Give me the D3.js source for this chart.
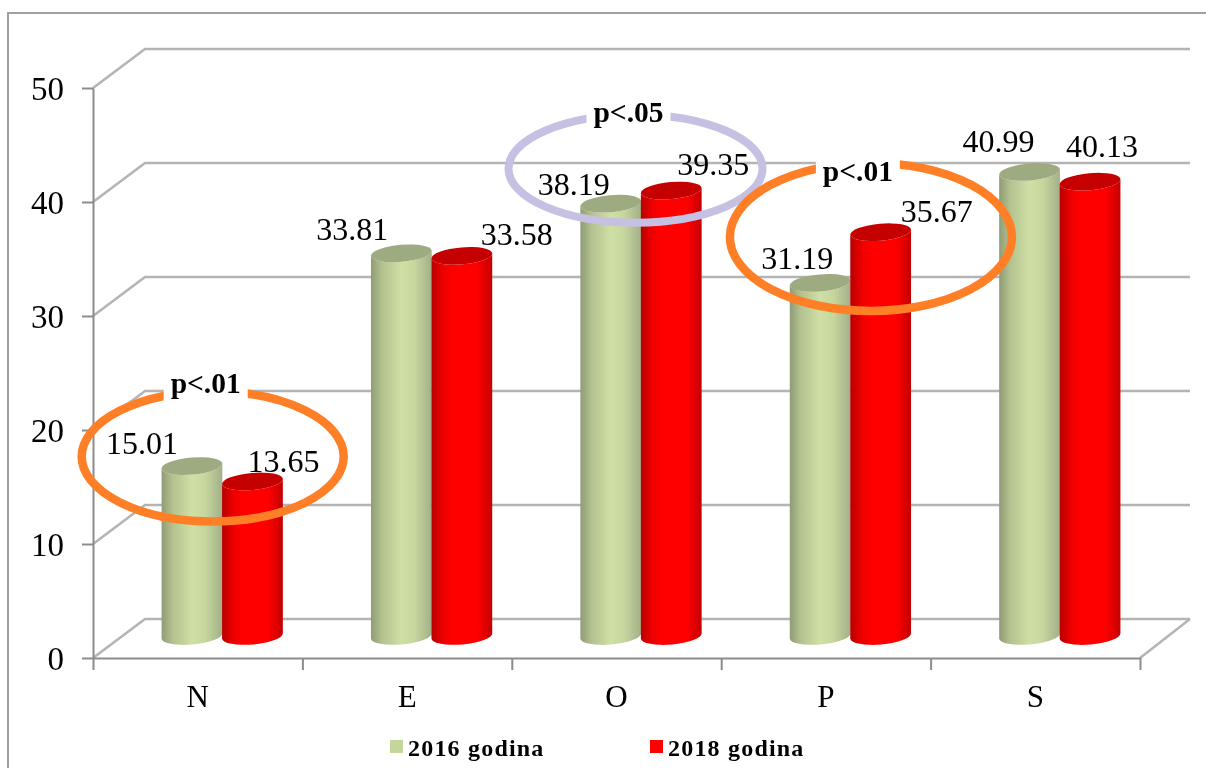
<!DOCTYPE html>
<html>
<head>
    <title>NEOPS 2016 / 2018</title>
    <script type="text/javascript" src="https://d3js.org/d3.v7.min.js"></script>
    <style>
	body { margin: 0; background: #fff; }
	svg { display: block; filter: blur(0.45px); }
	text { font-family: "Liberation Serif", "Times New Roman", serif; fill: #000; }
	.axis path, .axis line { stroke: #8c8c8c; stroke-width: 2; }
	.grid { fill: none; stroke: #b4b4b4; stroke-width: 2.5; }
    </style>
</head>
<body>
<script>
	// data
	var categories = ["N", "E", "O", "P", "S"];
	var seriesNames = ["2016 godina", "2018 godina"];
	var values2016 = [15.01, 33.81, 38.19, 31.19, 40.99];
	var values2018 = [13.65, 33.58, 39.35, 35.67, 40.13];
	var yTicks = [0, 10, 20, 30, 40, 50];

	// significance rings: category, text
	var ringCategories = ["N", "O", "P"];
	var ringTexts = ["p<.01", "p<.05", "p<.01"];

	var width = 1206, height = 768;
	var depthX = 52, depthY = 39;			// 3d offset of the back wall
	var floorY = 658, topY = 88;
	var leftX = 93, rightX = 1140;

	var svg = d3.select("body").append("svg")
		.attr("width", width)
		.attr("height", height);

	// frame, runs off the right and bottom of the picture
	svg.append("path")
		.attr("d", "M8," + height + "V13H" + width)
		.attr("fill", "none").attr("stroke", "#a0a0a0").attr("stroke-width", 2);

	var defs = svg.append("defs");
	function gradient(id, stops) {
		var g = defs.append("linearGradient").attr("id", id);
		stops.forEach(function (s) {
			g.append("stop").attr("offset", s[0]).attr("stop-color", s[1]);
		});
	}
	gradient("bodyGreen", [[0, "#8f9c76"], [0.18, "#b3c18f"], [0.5, "#cfe0a5"], [0.72, "#c6d69e"], [1, "#a3af88"]]);
	gradient("bodyRed", [[0, "#b80000"], [0.2, "#f00000"], [0.35, "#ff0000"], [0.75, "#ff0000"], [1, "#c40000"]]);

	var yScale = d3.scaleLinear().domain([0, 50]).range([floorY, topY]);
	var xScale = d3.scaleBand().domain(categories).range([leftX, rightX]);
	var tickScale = d3.scaleLinear().domain([0, categories.length]).range([leftX, rightX]);

	// bars stand in the middle of the floor
	var barScale = d3.scaleLinear().domain([0, 50]).range([636, 70]);
	var innerScale = d3.scaleBand().domain(seriesNames).range([-61, 60]);
	var colorTop = d3.scaleOrdinal().domain(seriesNames).range(["#9eaa80", "#c40000"]);
	var colorBody = d3.scaleOrdinal().domain(seriesNames).range(["url(#bodyGreen)", "url(#bodyRed)"]);
	var colorKey = d3.scaleOrdinal().domain(seriesNames).range(["#c3d69b", "#ff0000"]);

	// grid lines: side wall + back wall
	svg.append("g").selectAll("path").data(yTicks).enter().append("path")
		.attr("class", "grid")
		.attr("d", function (d) {
			var y = yScale(d);
			return "M" + leftX + "," + y + "L" + (leftX + depthX) + "," + (y - depthY) + "H" + (rightX + depthX - 2);
		});
	// floor right edge
	svg.append("path").attr("class", "grid")
		.attr("d", "M" + rightX + "," + floorY + "L" + (rightX + depthX - 2) + "," + (floorY - depthY));

	// y axis
	var yAxis = d3.axisLeft(yScale).tickValues(yTicks).tickSize(11).tickPadding(18).tickSizeOuter(0);
	var yG = svg.append("g").attr("class", "axis").attr("transform", "translate(" + leftX + ",0)").call(yAxis);
	yG.selectAll("text").style("font-size", "33px").attr("dy", "0.34em");

	// x axis: ticks on band edges, labels in band centers
	var xTicks = d3.axisBottom(tickScale).tickValues(d3.range(categories.length + 1)).tickSize(12).tickFormat("").tickSizeOuter(0);
	svg.append("g").attr("class", "axis").attr("transform", "translate(0," + floorY + ")").call(xTicks);
	var xLabels = d3.axisBottom(xScale).tickSize(0).tickPadding(27);
	var xG = svg.append("g").attr("class", "axis").attr("transform", "translate(0," + floorY + ")").call(xLabels);
	xG.select(".domain").remove();
	xG.selectAll("text").style("font-size", "31px");

	var rows = [];
	categories.forEach(function (c, i) {
		rows.push({ cat: c, name: seriesNames[0], v: values2016[i] });
		rows.push({ cat: c, name: seriesNames[1], v: values2018[i] });
	});

	var rx = 30.5, ry = 8.5, tilt = 5;
	var tiltRad = tilt * Math.PI / 180;
	function barCx(d) {
		return xScale(d.cat) + xScale.bandwidth() / 2 + depthX / 2 - 1 + innerScale(d.name) + innerScale.bandwidth() / 2;
	}
	function cylinder(d) {
		var cx = barCx(d), dx = rx * Math.cos(tiltRad), dy = rx * Math.sin(tiltRad);
		var top = barScale(d.v), bot = barScale(0);
		var arc = "A" + rx + "," + ry + " " + (-tilt);
		return "M" + (cx - dx) + "," + (top + dy)
			+ "L" + (cx - dx) + "," + (bot + dy)
			+ arc + " 0 0 " + (cx + dx) + "," + (bot - dy)
			+ "L" + (cx + dx) + "," + (top - dy)
			+ arc + " 0 1 " + (cx - dx) + "," + (top + dy) + "Z";
	}

	var bars = svg.append("g").selectAll("g").data(rows).enter().append("g");
	bars.append("path").attr("d", cylinder).attr("fill", function (d) { return colorBody(d.name); });
	bars.append("ellipse")
		.attr("cx", barCx)
		.attr("cy", function (d) { return barScale(d.v); })
		.attr("rx", rx).attr("ry", ry)
		.attr("transform", function (d) { return "rotate(" + (-tilt) + " " + barCx(d) + " " + barScale(d.v) + ")"; })
		.attr("fill", function (d) { return colorTop(d.name); });

	// rings around the compared pairs, placed from the bars they circle
	var ringSize = [[131, 65, 8.5, "#ff7f27"], [127, 54, 8, "#c6c0e2"], [141, 74, 8.5, "#ff7f27"]];
	var ringShiftX = [-10, -6, 20];
	var ringShiftY = [-25, -35, -46];
	var ringTextDx = [-7, -7, -13];
	var ringTextDy = [2, 7, 18];
	var rings = svg.append("g").selectAll("g").data(ringCategories).enter().append("g");
	rings.each(function (c, i) {
		var g = d3.select(this), s = ringSize[i];
		var k = categories.indexOf(c);
		var cx = xScale(c) + xScale.bandwidth() / 2 + depthX / 2 - 1 + ringShiftX[i];
		var cy = barScale(Math.min(values2016[k], values2018[k])) + ringShiftY[i];
		var tx = cx + ringTextDx[i], ty = cy - s[1] + ringTextDy[i];
		g.append("ellipse")
			.attr("cx", cx).attr("cy", cy).attr("rx", s[0]).attr("ry", s[1])
			.attr("fill", "none").attr("stroke", s[3]).attr("stroke-width", s[2]);
		g.append("rect")
			.attr("x", tx - 42).attr("y", ty - 24).attr("width", 84).attr("height", 34).attr("fill", "#fff");
		g.append("text")
			.attr("x", tx).attr("y", ty)
			.attr("text-anchor", "middle")
			.style("font-size", "29.5px").style("font-weight", "bold")
			.text(ringTexts[i]);
	});

	// value labels, hand placed around each bar top like in the original
	var nudge2016 = [[-50, -23], [-49, -24], [-37, -20], [-23, -25], [-31, -31]];
	var nudge2018 = [[31, -20], [55, -22], [42, -27], [56, -21], [12, -36]];
	rows.forEach(function (d, i) {
		var k = Math.floor(i / 2);
		var n = (i % 2 === 0 ? nudge2016 : nudge2018)[k];
		svg.append("text")
			.attr("x", barCx(d) + n[0])
			.attr("y", barScale(d.v) + n[1] + 11)
			.attr("text-anchor", "middle")
			.style("font-size", "32px")
			.text(d.v.toFixed(2));
	});

	// legend
	var legendX = d3.scaleOrdinal().domain(seriesNames).range([390, 650]);
	var legend = svg.append("g").selectAll("g").data(seriesNames).enter().append("g")
		.attr("transform", function (d) { return "translate(" + legendX(d) + ",748)"; });
	legend.append("rect").attr("x", 0).attr("y", -8).attr("width", 13).attr("height", 13)
		.attr("fill", function (d) { return colorKey(d); });
	legend.append("text")
		.attr("x", 18).attr("y", 8)
		.style("font-size", "24px").style("font-weight", "bold")
		.style("letter-spacing", "1.2px")
		.text(function (d) { return d; });
</script>
</body>
</html>
